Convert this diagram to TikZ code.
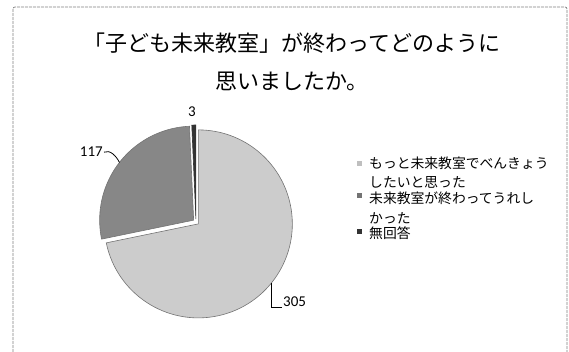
\documentclass[tikz,border=0pt]{standalone}
\usepackage{fontspec}
\newfontfamily\jpfont{Noto Sans CJK JP}
\newfontfamily\numfont{Carlito}
\usetikzlibrary{calc}
\begin{document}
\begin{tikzpicture}[x=1pt,y=1pt,
  lbl/.style={inner sep=0pt, font=\numfont\fontsize{15}{18}\selectfont},
  slice/.style={draw=black!55, line width=0.6pt},
  leader/.style={draw=black, line width=0.8pt},
  legtext/.style={inner sep=0pt, anchor=west, align=left, font=\jpfont\fontsize{13.8}{19.5}\selectfont},
  legkey/.style={minimum size=5pt, inner sep=0pt},
  frame/.style={draw=black!50, line width=0.7pt, dash pattern=on 3pt off 1pt},
  titlefont/.style={inner sep=0pt, align=center, font=\jpfont\fontsize{22}{38}\selectfont}]
\useasboundingbox (0,0) rectangle (569,352);
\draw[frame, rounded corners=2pt] (13,0) -- (13,345) -- (567,345) -- (567,0);

\node[titlefont] (title) at (292,290) {「子ども未来教室」が終わってどのように\\思いましたか。};

% pie
\coordinate (c) at (196,130);
\coordinate (cA) at ($(c)+(-39.18:3pt)$);
\coordinate (cB) at ($(c)+(142.1:3pt)$);
\coordinate (cC) at ($(c)+(91.27:3pt)$);
\filldraw[slice, fill=black!20] (cA) -- ++(-168.35:94pt) arc[start angle=-168.35, end angle=90, radius=94pt] -- cycle;
\filldraw[slice, fill=black!47] (cB) -- ++(92.54:94pt) arc[start angle=92.54, end angle=191.65, radius=94pt] -- cycle;
\filldraw[slice, draw=black!80, fill=black!80] (cC) -- ++(90:94pt) arc[start angle=90, end angle=92.54, radius=94pt] -- cycle;

\coordinate (pA) at ($(c)+(-39.18:97pt)$);
\coordinate (pB) at ($(c)+(142.1:97pt)$);

% data labels
\node[lbl, anchor=base] (l3) at (192,235) {3};
\node[lbl, anchor=base east] (l117) at (103,195) {117};
\node[lbl, anchor=base west] (l305) at (283,45) {305};
\draw[leader] ([xshift=1pt]l117.east) .. controls +(6pt,3pt) and +(-3pt,6pt) .. (pB);
\draw[leader] (pA) |- ([xshift=-1.5pt]l305.base west);

% legend
\node[legkey, fill=black!25] (k1) at (359,188) {};
\node[legtext] (t1) at (369,179.5) {もっと未来教室でべんきょう\\したいと思った};
\node[legkey, fill=black!55] (k2) at (359,156) {};
\node[legtext] (t2) at (369,144) {未来教室が終わってうれし\\かった};
\node[legkey, fill=black!80] (k3) at (359,120) {};
\node[legtext] (t3) at (369,119) {無回答};
\end{tikzpicture}
\end{document}
